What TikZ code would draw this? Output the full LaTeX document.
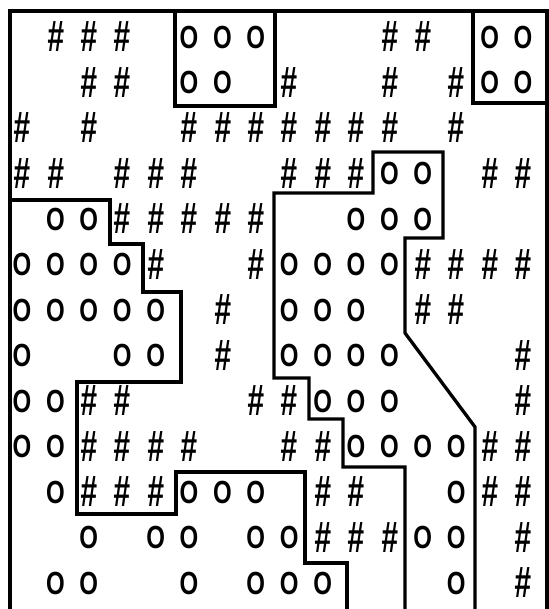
\documentclass[tikz,border=0pt]{standalone}
\usepackage{graphicx}
\usepackage{fontspec}
\newfontfamily\gridbold{Liberation Sans Bold}
\newfontfamily\gridbi{Liberation Sans Bold Italic}
\tikzset{
  hs/.style={font=\gridbi\fontsize{44}{44}\selectfont, inner sep=0pt},
  os/.style={font=\gridbold\fontsize{32}{32}\selectfont, inner sep=0pt},
  bl/.style={line width=3.3pt, line join=miter, line cap=rect}
}
\begin{document}
\begin{tikzpicture}[x=1pt,y=-1pt]
\useasboundingbox (0,0) rectangle (548,609);
% hash cells
\foreach \r/\cl in {0/{1,2,3,11,12},1/{2,3,8,11,13},2/{0,2,5,6,7,8,9,10,11,13},
  3/{0,1,3,4,5,8,9,10,14,15},4/{3,4,5,6,7},5/{4,7,12,13,14,15},6/{6,12,13},
  7/{6,15},8/{2,3,7,8,15},9/{2,3,4,5,8,9,14,15},10/{2,3,4,9,10,14,15},
  11/{9,10,11,15},12/{15}}{
  \foreach \c in \cl {
    \node[hs] (h\r-\c) at ({22+33.4*\c},{37+45.5*\r}) {\scalebox{0.68}[1]{\#}};
  }
}
% O cells
\foreach \r/\cl in {0/{5,6,7,14,15},1/{5,6,14,15},3/{11,12},4/{1,2,10,11,12},
  5/{0,1,2,3,8,9,10,11},6/{0,1,2,3,4,8,9,10},7/{0,3,4,8,9,10,11},
  8/{0,1,9,10,11},9/{0,1,10,11,12,13},10/{1,5,6,7,13},11/{2,4,5,7,8,12,13},
  12/{1,2,5,7,8,9,13}}{
  \foreach \c in \cl {
    \node[os] (o\r-\c) at ({22+33.4*\c},{37+45.5*\r}) {\scalebox{0.75}[1]{O}};
  }
}
% frame
\draw[bl] (10,609) -- (10,11) -- (547,11) -- (547,609);
% top boxes
\draw[bl] (175,11) -- (175,106) -- (275,106) -- (275,11);
\draw[bl] (473,11) -- (473,103) -- (547,103);
% left boundary
\draw[bl] (10,200) -- (110,200) -- (110,244) -- (143,244) -- (143,292)
  -- (181,292) -- (181,382) -- (77,382) -- (77,514) -- (176,514)
  -- (176,472) -- (305,472) -- (305,563) -- (347,563) -- (347,609);
% central boundary
\draw[bl] (405,609) -- (405,467) -- (343,467) -- (343,419) -- (309,419)
  -- (309,378) -- (274,378) -- (274,193) -- (373,193) -- (373,152)
  -- (443,152) -- (443,238) -- (405,238) -- (405,333) -- (475,427) -- (475,609);
\end{tikzpicture}
\end{document}
